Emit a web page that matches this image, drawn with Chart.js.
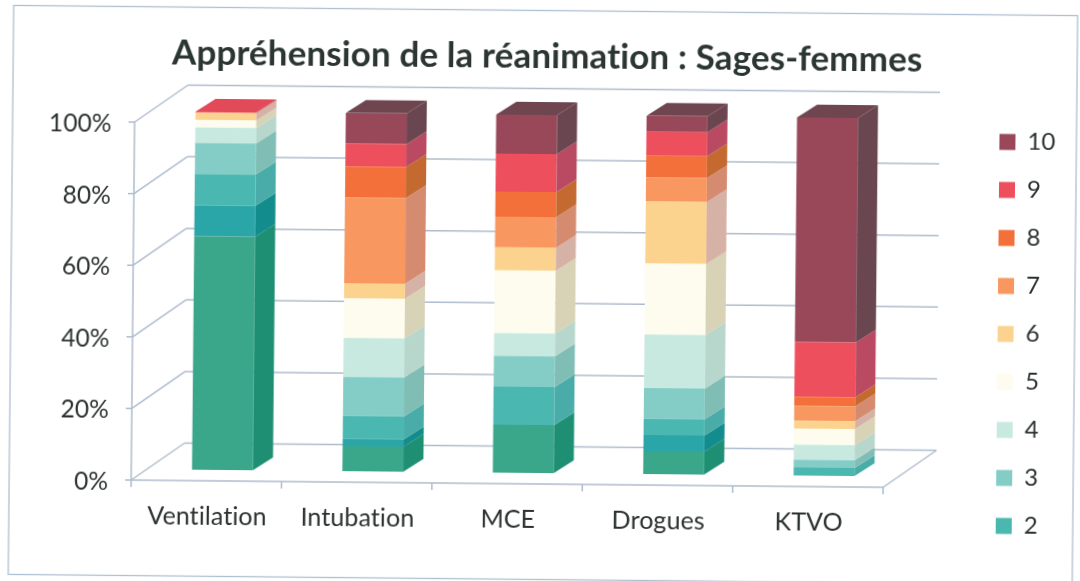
<!DOCTYPE html>
<html lang="fr"><head><meta charset="utf-8">
<style>html,body{margin:0;padding:0;background:#fff;overflow:hidden}
canvas{position:absolute;left:0;top:0;transform:rotate(0.55deg);transform-origin:540px 290px}</style>
<script src="https://cdn.jsdelivr.net/npm/chart.js@4"></script>
</head><body><canvas id="c" width="1080" height="581"></canvas>
<script>
const categories = ['Ventilation','Intubation','MCE','Drogues','KTVO'];
const seriesNames = ['0','1','2','3','4','5','6','7','8','9','10'];
const s0  = [65.2, 7.0, 13.4, 6.4, 0];
const s1  = [8.7, 2.0, 0, 4.5, 0];
const s2  = [8.7, 6.4, 10.6, 4.5, 2.2];
const s3  = [8.7, 10.9, 8.6, 8.6, 2.2];
const s4  = [4.3, 10.9, 6.4, 15.0, 4.2];
const s5  = [2.1, 11.1, 17.5, 19.8, 4.5];
const s6  = [2.1, 4.2, 6.4, 17.3, 2.2];
const s7  = [0, 24.0, 8.6, 6.7, 4.2];
const s8  = [0, 8.6, 7.0, 6.1, 2.5];
const s9  = [0.2, 6.4, 10.6, 6.7, 15.3];
const s10 = [0, 8.6, 10.9, 4.5, 62.7];
const seriesValues = [s0,s1,s2,s3,s4,s5,s6,s7,s8,s9,s10];
const yTicks = [0,20,40,60,80,100];

const frontColors = ['#3aa68a','#2aa5a8','#4ab8b0','#84cdc6','#c8e9e0','#fdfcee','#fbd38f','#f8975f','#f3703a','#ee4f5c','#99485a'];
const sideColors  = ['#1f8f74','#128c8c','#4aaca8','#7fbdb5','#b7d6cc','#d8d2b6','#d6b2a6','#d58b70','#c4692f','#b94a62','#6a4650'];
const topColors   = ['#3aa68a','#2aa5a8','#4ab8b0','#84cdc6','#c8e9e0','#fdfcee','#fbd38f','#f8975f','#f3703a','#e24a5a','#6f4650'];
const barDepth = {x:20, y:-13};
const wallDepth = {x:53, y:-37.5};
const front = {x:-16, y:11};
const gridColor = '#aebccd';
const textColor = '#2b3130';
const fontFamily = 'Lato, Carlito, sans-serif';

const scene3d = {
  id:'scene3d',
  beforeLayout(chart){
    const l = chart.legend;
    if(l && !l._fixed){ const f = l.fit; l.fit = function(){ f.call(this); this.width = 179; }; l._fixed = true; }
  },
  afterLayout(chart){
    chart.legend.left = 974; chart.legend.right = 1080; chart.legend.top = 101.5;
    chart.titleBlock.left = 10; chart.titleBlock.right = 1080;
  },
  beforeDraw(chart){
    const c = chart.ctx;
    c.letterSpacing = '0.1px';
    c.save(); c.strokeStyle = '#aebfd0'; c.lineWidth = 1.3;
    c.strokeRect(11, 10.5, 1064, 569); c.restore();
  },
  beforeDatasetsDraw(chart){
    const c = chart.ctx, {x, y} = chart.scales, {left, right} = chart.chartArea;
    const fl = left + front.x, fr = right + front.x;
    c.save(); c.strokeStyle = gridColor; c.lineWidth = 1.5;
    const line = (a,b,d,e) => { c.beginPath(); c.moveTo(a,b); c.lineTo(d,e); c.stroke(); };
    yTicks.forEach(v => {
      const p = y.getPixelForValue(v) + front.y;
      line(fl-6, p, fl, p);
      line(fl, p, fl+wallDepth.x, p+wallDepth.y);
      line(fl+wallDepth.x, p+wallDepth.y, fr+wallDepth.x, p+wallDepth.y);
    });
    const p0 = y.getPixelForValue(0) + front.y, p1 = y.getPixelForValue(100) + front.y;
    line(fl, p0, fl, p1);
    line(fl, p0, fr, p0);
    line(fr, p0, fr+wallDepth.x, p0+wallDepth.y);
    const band = (right-left)/categories.length;
    for(let i=0;i<=categories.length;i++){ const t = fl+band*i; line(t, p0, t, p0+7); }
    c.restore();
  },
  afterDatasetsDraw(chart){
    const c = chart.ctx;
    categories.forEach((_, j) => {
      let last = -1;
      seriesValues.forEach((vals, i) => {
        if(!vals[j]) return;
        last = i;
        const b = chart.getDatasetMeta(i).data[j].getProps(['x','y','base','width'], true);
        const xr = b.x + b.width/2;
        c.fillStyle = sideColors[i];
        c.beginPath(); c.moveTo(xr, b.base); c.lineTo(xr+barDepth.x, b.base+barDepth.y);
        c.lineTo(xr+barDepth.x, b.y+barDepth.y); c.lineTo(xr, b.y); c.closePath(); c.fill();
      });
      const b = chart.getDatasetMeta(last).data[j].getProps(['x','y','base','width'], true);
      const xl = b.x - b.width/2, xr = b.x + b.width/2;
      c.fillStyle = topColors[last];
      c.beginPath(); c.moveTo(xl, b.y); c.lineTo(xr, b.y); c.lineTo(xr+barDepth.x, b.y+barDepth.y);
      c.lineTo(xl+barDepth.x, b.y+barDepth.y); c.closePath(); c.fill();
    });
  }
};

new Chart(document.getElementById('c'), {
  type:'bar',
  data:{ labels:categories,
    datasets:seriesValues.map((v,i)=>({label:seriesNames[i], data:v, backgroundColor:frontColors[i], borderWidth:0,
      categoryPercentage:1, barPercentage:0.405}))},
  plugins:[scene3d],
  options:{ responsive:false, animation:false, devicePixelRatio:1,
    layout:{padding:0},
    scales:{
      x:{ stacked:true, grid:{display:false}, border:{display:false},
        afterFit(s){ s.height = 108; },
        ticks:{ color:textColor, font:{family:fontFamily,size:25}, padding:24, labelOffset:-15, maxRotation:0, autoSkip:false } },
      y:{ stacked:true, min:0, max:100, grid:{display:false,drawTicks:false}, border:{display:false},
        afterFit(s){ s.width = 149; },
        afterBuildTicks(s){ s.ticks = yTicks.map(v=>({value:v})); },
        ticks:{ color:textColor, font:{family:fontFamily,size:24.5}, padding:39, labelOffset:13, callback:v=>v+'%' } }
    },
    plugins:{
      title:{ display:true, text:'Appréhension de la réanimation : Sages-femmes', color:'#2b3633',
        font:{family:fontFamily,size:35,weight:'bold',lineHeight:1.2}, padding:{top:36,bottom:37} },
      tooltip:{enabled:false},
      legend:{ position:'right', align:'start', reverse:true,
        labels:{ color:textColor, font:{family:fontFamily,size:24}, boxWidth:16, boxHeight:16, padding:24,
          filter:it=>!['0','1'].includes(it.text) } }
    }
  }
});
</script></body></html>
